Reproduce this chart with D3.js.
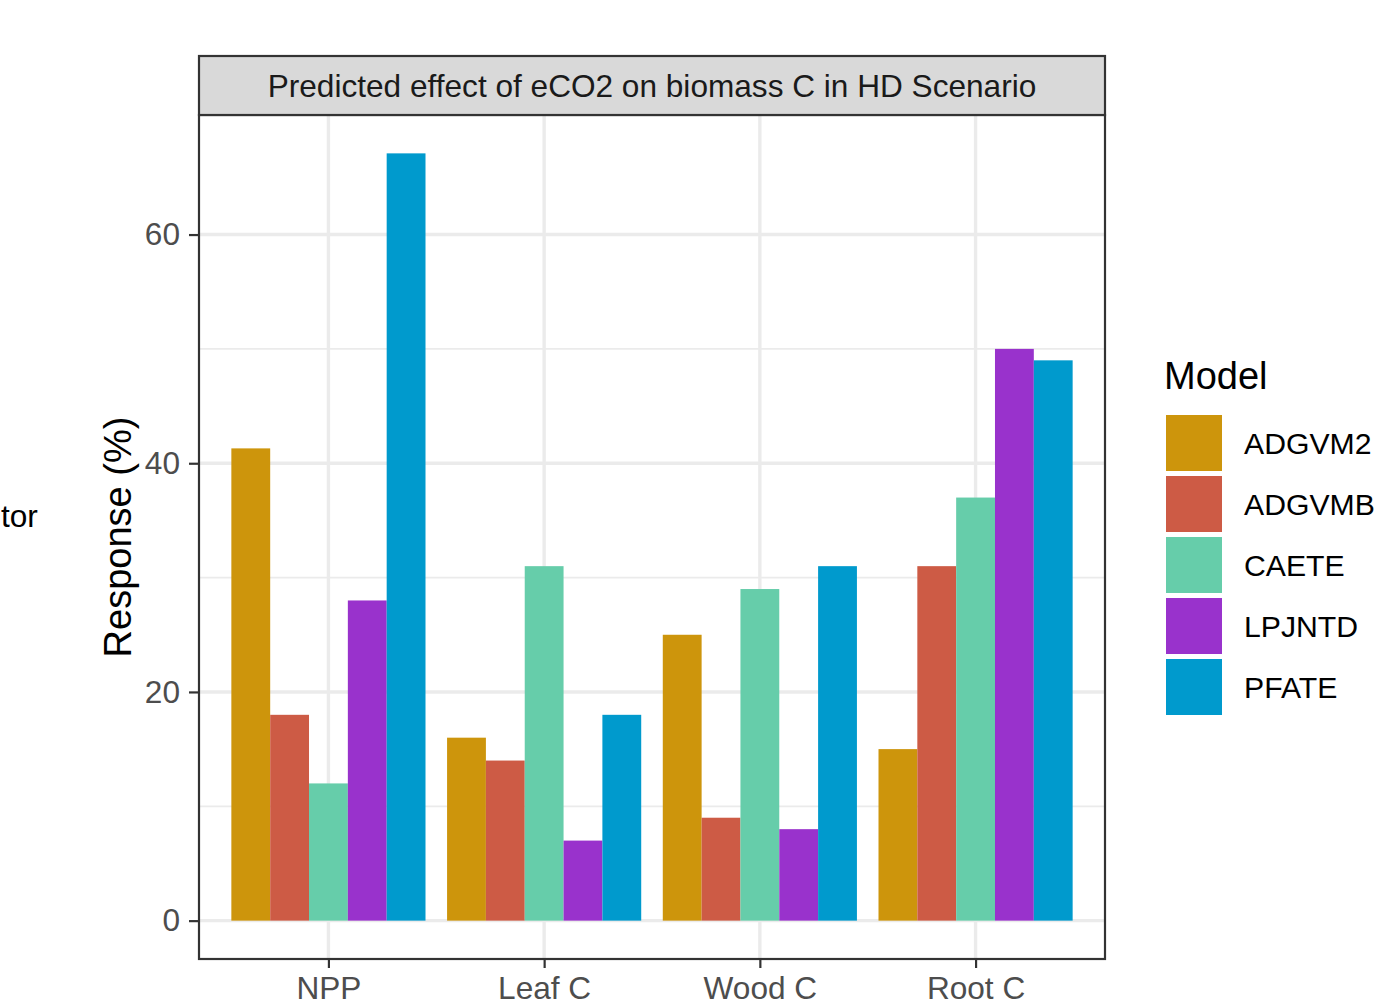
<!DOCTYPE html>
<html>
<head>
<meta charset="utf-8">
<script src="https://cdn.jsdelivr.net/npm/d3@7"></script>
<style>
  html, body { margin: 0; padding: 0; background: #fff; }
  svg { display: block; font-family: "Liberation Sans", Arial, Helvetica, sans-serif; }
</style>
</head>
<body>
<svg id="chart" width="1376" height="1007"></svg>
<script>
// Response (%) of biomass carbon pools to elevated CO2, per vegetation model
const categories = ["NPP", "Leaf C", "Wood C", "Root C"];
const models = ["ADGVM2", "ADGVMB", "CAETE", "LPJNTD", "PFATE"];
const modelColors = ["#CD950C", "#CD5B45", "#66CDAA", "#9932CC", "#009ACD"];

const adgvm2 = [41.3, 16, 25, 15];
const adgvmb = [18, 14, 9, 31];
const caete  = [12, 31, 29, 37];
const lpjntd = [28, 7, 8, 50];
const pfate  = [67.1, 18, 31, 49];

const yTicks = [0, 20, 40, 60];
const yMinor = [10, 30, 50];

const stripTitle = "Predicted effect of eCO2 on biomass C in HD Scenario";
const yTitle = "Response (%)";
const legendTitle = "Model";

const seriesValues = [adgvm2, adgvmb, caete, lpjntd, pfate];
const rows = [];
categories.forEach((c, ci) => {
  models.forEach((m, mi) => rows.push({ category: c, model: m, value: seriesValues[mi][ci] }));
});

const svg = d3.select("#chart");
const small = 31.6;
const large = 38;
const legendText = 30.2;

// panel geometry
const panel = { left: 199, right: 1105, top: 115, bottom: 959 };
const strip = { top: 56, bottom: 115 };

const x = d3.scalePoint().domain(categories).range([panel.left, panel.right]).padding(0.6);
const step = x.step();
const xInner = d3.scaleBand().domain(models).range([-0.45 * step, 0.45 * step]).padding(0);

const maxV = d3.max(rows, d => d.value);
const expand = 0.05 * maxV;
const y = d3.scaleLinear().domain([-expand, maxV + expand]).range([panel.bottom, panel.top]);

const color = d3.scaleOrdinal().domain(models).range(modelColors);

// panel background + grid
const g = svg.append("g");
g.append("rect")
  .attr("x", panel.left).attr("y", panel.top)
  .attr("width", panel.right - panel.left).attr("height", panel.bottom - panel.top)
  .attr("fill", "#fff");

g.selectAll("line.minor").data(yMinor).join("line")
  .attr("x1", panel.left).attr("x2", panel.right)
  .attr("y1", d => y(d)).attr("y2", d => y(d))
  .attr("stroke", "#ebebeb").attr("stroke-width", 1.8);

g.selectAll("line.majorY").data(yTicks).join("line")
  .attr("x1", panel.left).attr("x2", panel.right)
  .attr("y1", d => y(d)).attr("y2", d => y(d))
  .attr("stroke", "#ebebeb").attr("stroke-width", 3.4);

g.selectAll("line.majorX").data(categories).join("line")
  .attr("x1", d => x(d)).attr("x2", d => x(d))
  .attr("y1", panel.top).attr("y2", panel.bottom)
  .attr("stroke", "#ebebeb").attr("stroke-width", 3.4);

// bars
g.selectAll("rect.bar").data(rows).join("rect")
  .attr("class", "bar")
  .attr("x", d => x(d.category) + xInner(d.model))
  .attr("width", xInner.bandwidth())
  .attr("y", d => y(Math.max(0, d.value)))
  .attr("height", d => Math.abs(y(d.value) - y(0)))
  .attr("fill", d => color(d.model));

// panel border
g.append("rect")
  .attr("x", panel.left).attr("y", panel.top)
  .attr("width", panel.right - panel.left).attr("height", panel.bottom - panel.top)
  .attr("fill", "none").attr("stroke", "#333333").attr("stroke-width", 2.2);

// facet strip
g.append("rect")
  .attr("x", panel.left).attr("y", strip.top)
  .attr("width", panel.right - panel.left).attr("height", strip.bottom - strip.top)
  .attr("fill", "#d9d9d9").attr("stroke", "#333333").attr("stroke-width", 2.2);
g.append("text")
  .attr("x", (panel.left + panel.right) / 2).attr("y", (strip.top + strip.bottom) / 2 + 11)
  .attr("text-anchor", "middle")
  .attr("font-size", small).attr("fill", "#1a1a1a")
  .text(stripTitle);

// y axis
const yAxis = d3.axisLeft(y).tickValues(yTicks).tickSize(10).tickPadding(9);
const ya = svg.append("g").attr("transform", `translate(${panel.left},0)`).call(yAxis);
ya.select(".domain").remove();
ya.selectAll(".tick line").attr("stroke", "#333333").attr("stroke-width", 2.2);
ya.selectAll(".tick text").attr("font-size", small).attr("fill", "#4d4d4d")
  .attr("font-family", "Liberation Sans, Arial, sans-serif");

// x axis
const xAxis = d3.axisBottom(x).tickSize(9).tickPadding(9);
const xa = svg.append("g").attr("transform", `translate(0,${panel.bottom})`).call(xAxis);
xa.select(".domain").remove();
xa.selectAll(".tick line").attr("stroke", "#333333").attr("stroke-width", 2.2);
xa.selectAll(".tick text").attr("font-size", small).attr("fill", "#4d4d4d")
  .attr("font-family", "Liberation Sans, Arial, sans-serif");

// y title
svg.append("text")
  .attr("transform", `translate(131,${(panel.top + panel.bottom) / 2}) rotate(-90)`)
  .attr("text-anchor", "middle")
  .attr("font-size", large).attr("fill", "#000")
  .text(yTitle);

// trailing part of a neighbouring label at the left edge
svg.append("text")
  .attr("x", 1).attr("y", 527)
  .attr("font-size", small).attr("fill", "#000")
  .text("tor");

// legend
const legend = svg.append("g").attr("transform", "translate(1164,0)");
legend.append("text")
  .attr("x", 0).attr("y", 389)
  .attr("font-size", large).attr("fill", "#000")
  .text(legendTitle);
const items = legend.selectAll("g.item").data(models).join("g")
  .attr("transform", (d, i) => `translate(0,${415 + i * 61})`);
items.append("rect")
  .attr("x", 2).attr("y", 0).attr("width", 56).attr("height", 56)
  .attr("fill", d => color(d));
items.append("text")
  .attr("x", 80).attr("y", 28 + 11)
  .attr("font-size", legendText).attr("fill", "#000")
  .text(d => d);
</script>
</body>
</html>
